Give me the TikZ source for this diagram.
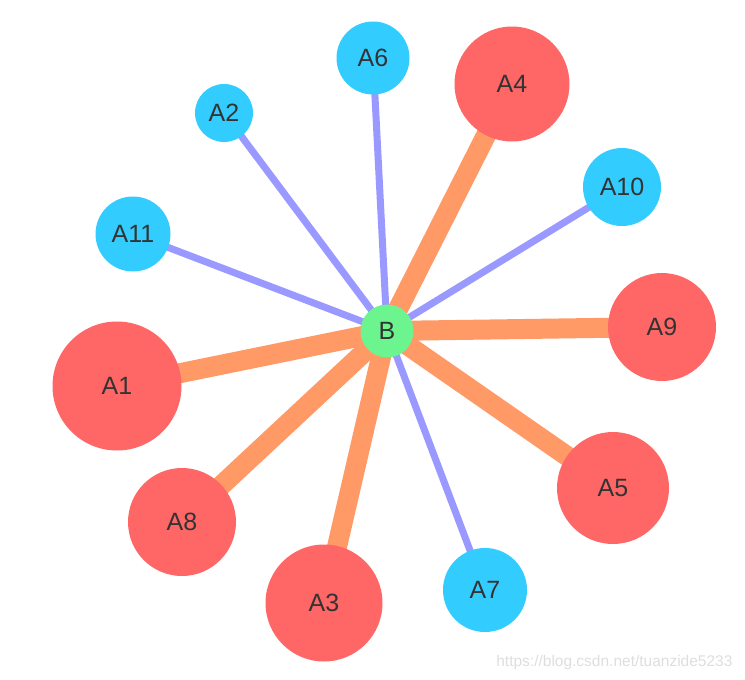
\documentclass[tikz,border=0pt]{standalone}
\usepackage{fontspec}
\setmainfont{Liberation Sans}
\begin{document}
\begin{tikzpicture}[x=1pt,y=-1pt,
  vtx/.style={circle,inner sep=0pt,minimum size=#1,text=black!80,font=\fontsize{25}{28}\selectfont},
  rednode/.style={vtx=#1,fill=nred},
  bluenode/.style={vtx=#1,fill=nblue},
  greennode/.style={vtx=#1,fill=ngreen},
  heavy/.style={draw=eorange,line width=20pt},
  light/.style={draw=epurple,line width=7pt}]
\definecolor{nred}{HTML}{FF6666}
\definecolor{nblue}{HTML}{33CCFF}
\definecolor{ngreen}{HTML}{6CF58F}
\definecolor{eorange}{HTML}{FF9966}
\definecolor{epurple}{HTML}{9999FF}
\pgfdeclarelayer{bg}
\pgfsetlayers{bg,main}
\useasboundingbox (0,0) rectangle (745,680);
\node[greennode=53pt] (B) at (387,331) {B};
\node[bluenode=73pt] (A6) at (373,58) {A6};
\node[rednode=115pt] (A4) at (512,84) {A4};
\node[bluenode=58pt] (A2) at (224,113) {A2};
\node[bluenode=78pt] (A10) at (622,187) {A10};
\node[bluenode=75pt] (A11) at (133,234) {A11};
\node[rednode=108pt] (A9) at (662,327) {A9};
\node[rednode=129pt] (A1) at (117,386) {A1};
\node[rednode=112pt] (A5) at (613,488) {A5};
\node[rednode=108pt] (A8) at (182,522) {A8};
\node[rednode=117pt] (A3) at (324,603) {A3};
\node[bluenode=84pt] (A7) at (485,590) {A7};
\node[text=black!13,font=\fontsize{15.5}{18}\selectfont,anchor=east] (wm) at (736,662) {https://blog.csdn.net/tuanzide5233};
\begin{pgfonlayer}{bg}
\foreach \n in {A4,A9,A1,A5,A8,A3}
  \draw[heavy] (B.center) -- (\n.center);
\foreach \n in {A6,A2,A10,A11,A7}
  \draw[light] (B.center) -- (\n.center);
\end{pgfonlayer}
\end{tikzpicture}
\end{document}
